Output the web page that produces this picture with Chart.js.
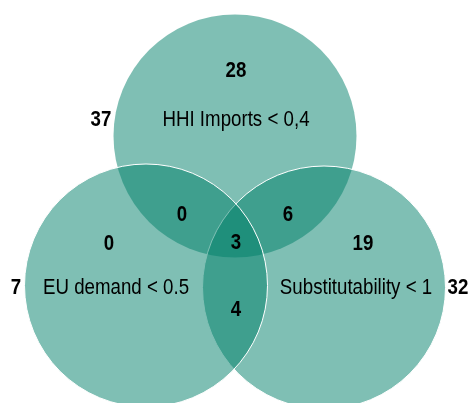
<!DOCTYPE html>
<html>
<head>
<meta charset="utf-8">
<script src="https://cdn.jsdelivr.net/npm/chart.js@4/dist/chart.umd.min.js"></script>
<style>
  html, body { margin: 0; padding: 0; background: #fff; }
  #venn { display: block; }
</style>
</head>
<body>
<canvas id="venn" width="470" height="403"></canvas>
<script>
// sets (circles), drawn top -> right -> left so the left one sits on top
const setNames = ['HHI Imports < 0,4', 'Substitutability < 1', 'EU demand < 0.5'];
const setTotals = [37, 32, 7];
const setCx = [235, 324, 146];
const setCy = [136, 287.5, 285.5];
const setR = [121.5, 121.5, 121.5];

// region counts inside the diagram
const regionNames = ['HHI only', 'EU+HHI', 'HHI+Subst', 'all three', 'EU only', 'Subst only', 'EU+Subst'];
const regionCounts = [28, 0, 6, 3, 0, 19, 4];

// label layout (data units, same frame as the circles)
const regionX = [236, 182, 288, 236, 109, 363, 236];
const regionY = [71, 215, 215, 243, 244, 244, 310];
const nameX = [236, 356, 116];
const nameY = [120, 288, 288];
const totalX = [101, 458, 16];
const totalY = [120, 288, 288];

// arial narrow isn't installed: squeeze liberation sans instead
const FONT = '"Liberation Sans", Arial, sans-serif';
const SQUEEZE = 0.85;

function narrowText(ctx, s, px, py){
  ctx.save();
  ctx.translate(px, py);
  ctx.scale(SQUEEZE, 1);
  ctx.fillText(s, 0, 0);
  ctx.restore();
}

const vennLabels = {
  id: 'vennLabels',
  afterDatasetsDraw(chart) {
    const { ctx, scales: { x, y } } = chart;
    ctx.save();
    ctx.fillStyle = '#000';
    ctx.textAlign = 'center';
    ctx.textBaseline = 'middle';
    ctx.font = 'bold 22px ' + FONT;
    regionCounts.forEach((v, i) => {
      narrowText(ctx, String(v), x.getPixelForValue(regionX[i]), y.getPixelForValue(regionY[i]));
    });
    setTotals.forEach((v, i) => {
      narrowText(ctx, String(v), x.getPixelForValue(totalX[i]), y.getPixelForValue(totalY[i]));
    });
    ctx.font = '22px ' + FONT;
    setNames.forEach((s, i) => {
      narrowText(ctx, s, x.getPixelForValue(nameX[i]), y.getPixelForValue(nameY[i]));
    });
    ctx.restore();
  }
};

new Chart(document.getElementById('venn'), {
  type: 'scatter',
  data: {
    datasets: [{
      label: 'sets',
      data: setNames.map((n, i) => ({ x: setCx[i], y: setCy[i] })),
      showLine: false,
      pointBackgroundColor: 'rgba(0,127,105,0.5)',
      pointBorderColor: '#ffffff',
      // the top circle has no white rim in the original
      pointBorderWidth: (c) => c.dataIndex === 0 ? 0 : 1,
      pointRadius: (c) => {
        const sx = c.chart.scales.x;
        return sx.getPixelForValue(setR[c.dataIndex]) - sx.getPixelForValue(0);
      }
    }]
  },
  options: {
    responsive: false,
    animation: false,
    events: [],
    layout: { padding: 0 },
    plugins: { legend: { display: false }, tooltip: { enabled: false } },
    scales: {
      x: { type: 'linear', min: 0, max: 470, display: false },
      y: { type: 'linear', min: 0, max: 403, reverse: true, display: false }
    }
  },
  plugins: [vennLabels]
});
</script>
</body>
</html>
